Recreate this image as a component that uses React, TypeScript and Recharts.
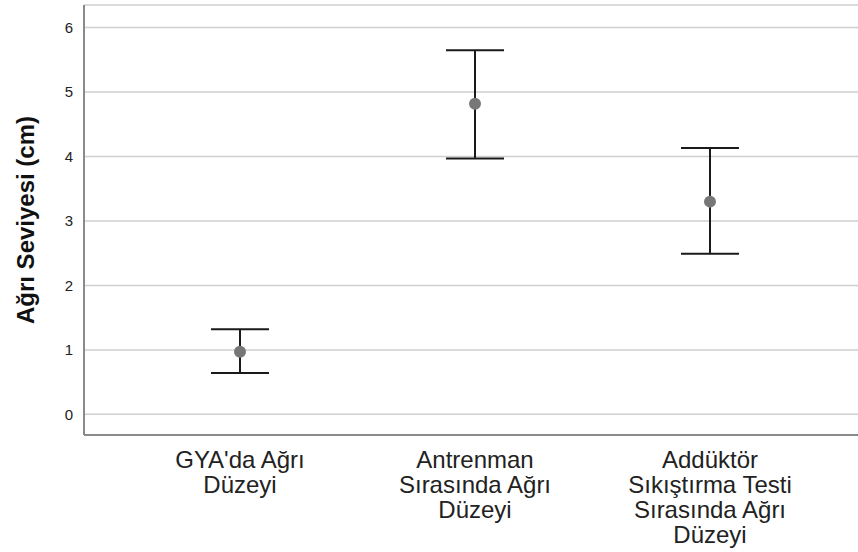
import React from 'react';
import { ComposedChart, Line, XAxis, YAxis, CartesianGrid, ErrorBar } from 'recharts';

const categories = [
  "GYA'da Ağrı Düzeyi",
  "Antrenman Sırasında Ağrı Düzeyi",
  "Addüktör Sıkıştırma Testi Sırasında Ağrı Düzeyi",
];
const categoryLines = [
  ["GYA'da Ağrı", "Düzeyi"],
  ["Antrenman", "Sırasında Ağrı", "Düzeyi"],
  ["Addüktör", "Sıkıştırma Testi", "Sırasında Ağrı", "Düzeyi"],
];
const means = [0.97, 4.82, 3.3];
const lowerCI = [0.64, 3.97, 2.49];
const upperCI = [1.32, 5.65, 4.13];
const yTicks = [0, 1, 2, 3, 4, 5, 6];

const data = categories.map((name, i) => ({
  name,
  mean: means[i],
  err: [means[i] - lowerCI[i], upperCI[i] - means[i]],
}));

const FONT = '"Liberation Sans", Arial, sans-serif';

const CategoryTick = (props: any) => {
  const { x, y, payload } = props;
  const idx = categories.indexOf(payload.value);
  const lines = idx >= 0 ? categoryLines[idx] : [String(payload.value)];
  return (
    <text
      x={x}
      y={y}
      textAnchor="middle"
      fill="#222"
      fontFamily={FONT}
      fontSize={24}
    >
      {lines.map((l, i) => (
        <tspan key={i} x={x} y={y + 25 + i * 25}>
          {l}
        </tspan>
      ))}
    </text>
  );
};

const YLabel = (props: any) => {
  const vb = props.viewBox || { x: 0, y: 5, width: 84, height: 430 };
  const cx = 25;
  const cy = vb.y + vb.height / 2;
  return (
    <text
      x={cx}
      y={cy}
      transform={`rotate(-90 ${cx} ${cy})`}
      textAnchor="middle"
      dominantBaseline="central"
      fontFamily={FONT}
      fontWeight="bold"
      fontSize={24}
      fill="#111"
    >
      Ağrı Seviyesi (cm)
    </text>
  );
};

export default function App() {
  return (
    <div style={{ position: 'absolute', left: 0, top: 0, background: '#fff' }}>
      <ComposedChart
        width={858}
        height={552}
        data={data}
        margin={{ top: 5, right: 0, bottom: 0, left: 0 }}
      >
        <CartesianGrid vertical={false} stroke="#cfcfcf" strokeWidth={1.5} />
        <XAxis
          dataKey="name"
          type="category"
          height={117}
          padding={{ left: 156, right: 148 }}
          axisLine={{ stroke: '#8a8a8a', strokeWidth: 2 }}
          tickLine={false}
          interval={0}
          tick={<CategoryTick />}
        />
        <YAxis
          width={84}
          domain={[-0.32, 6.35]}
          ticks={yTicks}
          type="number"
          allowDataOverflow
          axisLine={{ stroke: '#8a8a8a', strokeWidth: 2 }}
          tickLine={false}
          tickSize={6}
          tickMargin={5}
          tick={{ fill: '#222', fontSize: 15, fontFamily: FONT }}
          label={<YLabel />}
        />
        <Line
          dataKey="mean"
          stroke="none"
          isAnimationActive={false}
          activeDot={false}
          dot={{ r: 6, fill: '#777777', stroke: 'none' }}
        >
          <ErrorBar dataKey="err" direction="y" width={29} stroke="#1a1a1a" strokeWidth={2} />
        </Line>
      </ComposedChart>
    </div>
  );
}
